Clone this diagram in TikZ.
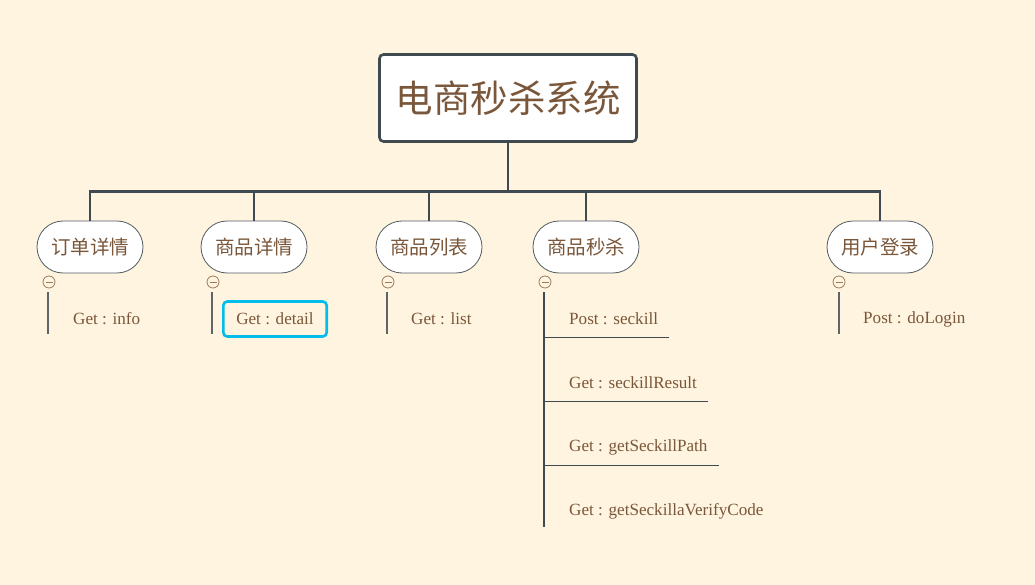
\documentclass[tikz,border=0pt]{standalone}
\usepackage{fontspec}
\setmainfont{Liberation Serif}
\newfontfamily\cjk{Noto Sans CJK SC}
\definecolor{bgc}{HTML}{FFF4DF}
\definecolor{txt}{HTML}{7A573A}
\definecolor{lnc}{HTML}{3E4A4F}
\definecolor{subl}{HTML}{5F6466}
\definecolor{circ}{HTML}{9C7A5C}
\definecolor{sel}{HTML}{00BDEB}
\begin{document}
\begin{tikzpicture}[x=1pt,y=-1pt,
  rootbox/.style={draw=lnc,line width=2.6pt,fill=white,rounded corners=4pt,minimum width=257pt,minimum height=87pt,inner sep=0pt,font=\cjk\fontsize{37.5}{40}\selectfont,text=txt},
  topic/.style={draw=lnc!90,line width=0.8pt,fill=white,rounded corners=26pt,minimum width=106pt,minimum height=52pt,inner sep=0pt,font=\cjk\fontsize{19.5}{22}\selectfont,text=txt},
  fold/.style={circle,draw=circ,line width=0.8pt,fill=bgc,minimum size=12pt,inner sep=0pt,
    path picture={\draw[circ,line width=0.8pt] ([xshift=-3.5pt]path picture bounding box.center) -- ([xshift=3.5pt]path picture bounding box.center);}},
  leaf/.style={font=\fontsize{17.1}{20}\selectfont,text=txt,inner xsep=11pt,inner ysep=0pt,minimum height=36pt,anchor=west},
  bus/.style={draw=lnc,line width=2.6pt},
  twig/.style={draw=subl,line width=1.6pt},
  trunk/.style={draw=lnc,line width=1.6pt}
]
\fill[bgc] (0,0) rectangle (1035,585);
\useasboundingbox (0,0) rectangle (1035,585);

\node[rootbox] (root) at (508,98) {电商秒杀系统};
\coordinate (hub) at (508,191.5);

\node[topic] (t1) at (90,247) {订单详情};
\node[topic] (t2) at (254,247) {商品详情};
\node[topic] (t3) at (429,247) {商品列表};
\node[topic] (t4) at (586,247) {商品秒杀};
\node[topic] (t5) at (880,247) {用户登录};

\draw[bus] (root.south) -- (hub);
\foreach \t in {t1,t2,t3,t4,t5} \draw[bus,line join=miter] (hub) -| (\t.north);

\node[fold] (f1) at (49,282) {};
\node[fold] (f2) at (213,282) {};
\node[fold] (f3) at (388,282) {};
\node[fold] (f4) at (545,282) {};
\node[fold] (f5) at (839,282) {};

% leaves
\node[leaf] (l1) at (62,319) {Get : info};
\node[leaf,draw=sel,line width=2.6pt,rounded corners=4pt,inner xsep=13pt,minimum height=35pt] (l2) at (222,319) {Get : detail};
\node[leaf] (l3) at (400,319) {Get : list};
\node[leaf] (l5) at (852,319) {Post : doLogin};

\coordinate (e1) at (48,334);
\coordinate (e2) at (212,334);
\coordinate (e3) at (387,334);
\coordinate (e5) at (839,334);
\draw[twig] (f1.south) ++(-1,4) -- (e1);
\draw[twig] (f2.south) ++(-1,4) -- (e2);
\draw[twig] (f3.south) ++(-1,4) -- (e3);
\draw[twig] (f5.south) ++(0,4) -- (e5);

% seckill branch
\node[leaf] (s1) at (558,319) {Post : seckill};
\node[leaf] (s2) at (558,383) {Get : seckillResult};
\node[leaf] (s3) at (558,447) {Get : getSeckillPath};
\node[leaf] (s4) at (558,511) {Get : getSeckillaVerifyCode};
\coordinate (k) at (544,292);
\coordinate (kend) at (544,527);
\draw[trunk] (k) -- (kend);
\draw[trunk,line width=1.2pt] (k |- s1.south) -- (s1.south east);
\draw[trunk,line width=1.2pt] (k |- s2.south) -- (s2.south east);
\draw[trunk,line width=1.2pt] (k |- s3.south) -- (s3.south east);
\end{tikzpicture}
\end{document}
